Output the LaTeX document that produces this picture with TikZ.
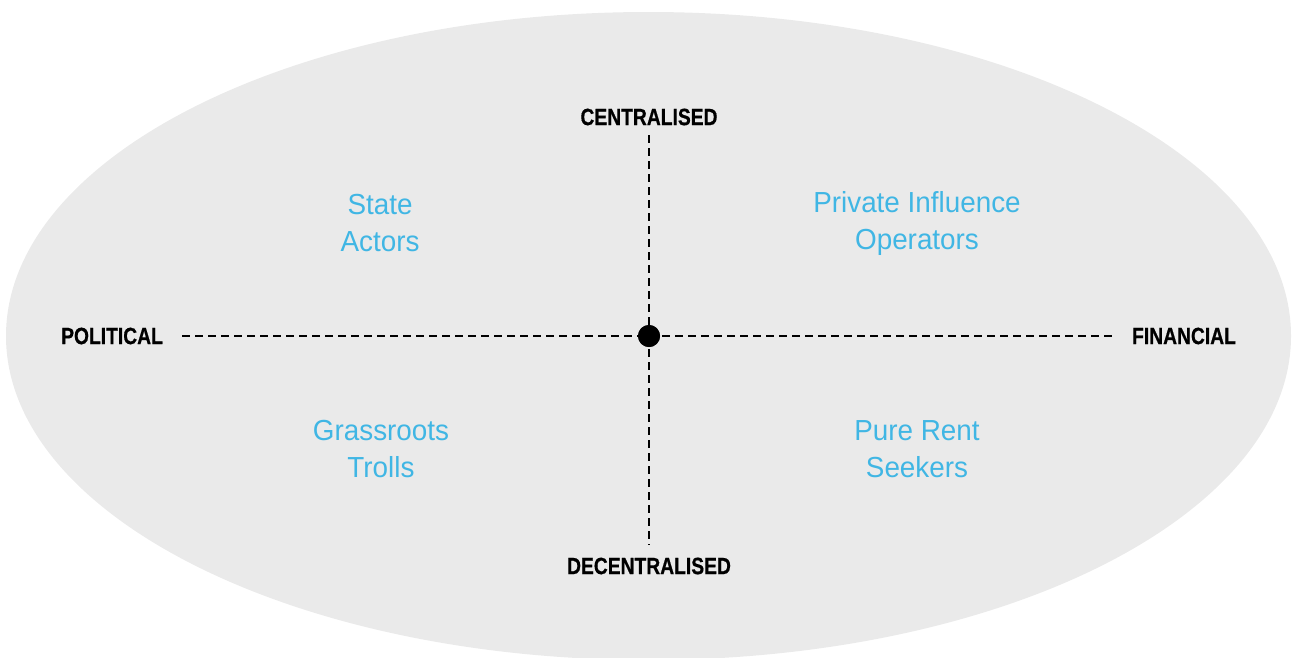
\documentclass[tikz,border=0pt]{standalone}
\usepackage{fontspec}
\setmainfont{Liberation Sans}
\newfontfamily\axisfont[FakeStretch=0.82,FakeBold=0.6]{Liberation Sans Bold}
\newfontfamily\quadfont[FakeStretch=0.96]{Liberation Sans}
\definecolor{ellgray}{RGB}{234,234,234}
\definecolor{quadblue}{RGB}{64,182,228}
\tikzset{
  axislabel/.style={font=\axisfont\fontsize{23.5}{27}\selectfont, text=black, inner sep=0pt},
  quadlabel/.style={font=\quadfont\fontsize{29}{37}\selectfont, text=quadblue, align=center, inner sep=0pt},
  axisline/.style={line width=2pt, dash pattern=on 8pt off 5pt, black},
}
\begin{document}
\begin{tikzpicture}[x=1pt,y=-1pt]
\useasboundingbox (0,0) rectangle (1292,657);
\fill[ellgray] (648.5,336) ellipse [x radius=642.5, y radius=324];
\node[axislabel] (cen) at (649,117) {CENTRALISED};
\node[axislabel] (dec) at (649,566) {DECENTRALISED};
\node[axislabel] (pol) at (112,336) {POLITICAL};
\node[axislabel] (fin) at (1184,336) {FINANCIAL};
\coordinate (top) at (649,135);
\coordinate (bot) at (649,545);
\coordinate (lft) at (182,336);
\coordinate (rgt) at (1116,336);
\node[circle, fill=black, minimum size=22pt, inner sep=0pt] (mid) at (649,336) {};
\draw[axisline] (top) -- (mid.center);
\draw[axisline] (mid.center) -- (bot);
\draw[axisline] (lft) -- (mid.center);
\draw[axisline] (mid.center) -- (rgt);
\node[circle, fill=black, minimum size=22pt, inner sep=0pt] at (mid) {};
\node[quadlabel] (state) at (380,223.5) {State\\Actors};
\node[quadlabel] (priv) at (917,223.5) {Private Influence\\Operators};
\node[quadlabel] (grass) at (381,449) {Grassroots\\Trolls};
\node[quadlabel] (rent) at (917,449) {Pure Rent\\Seekers};
\end{tikzpicture}
\end{document}
